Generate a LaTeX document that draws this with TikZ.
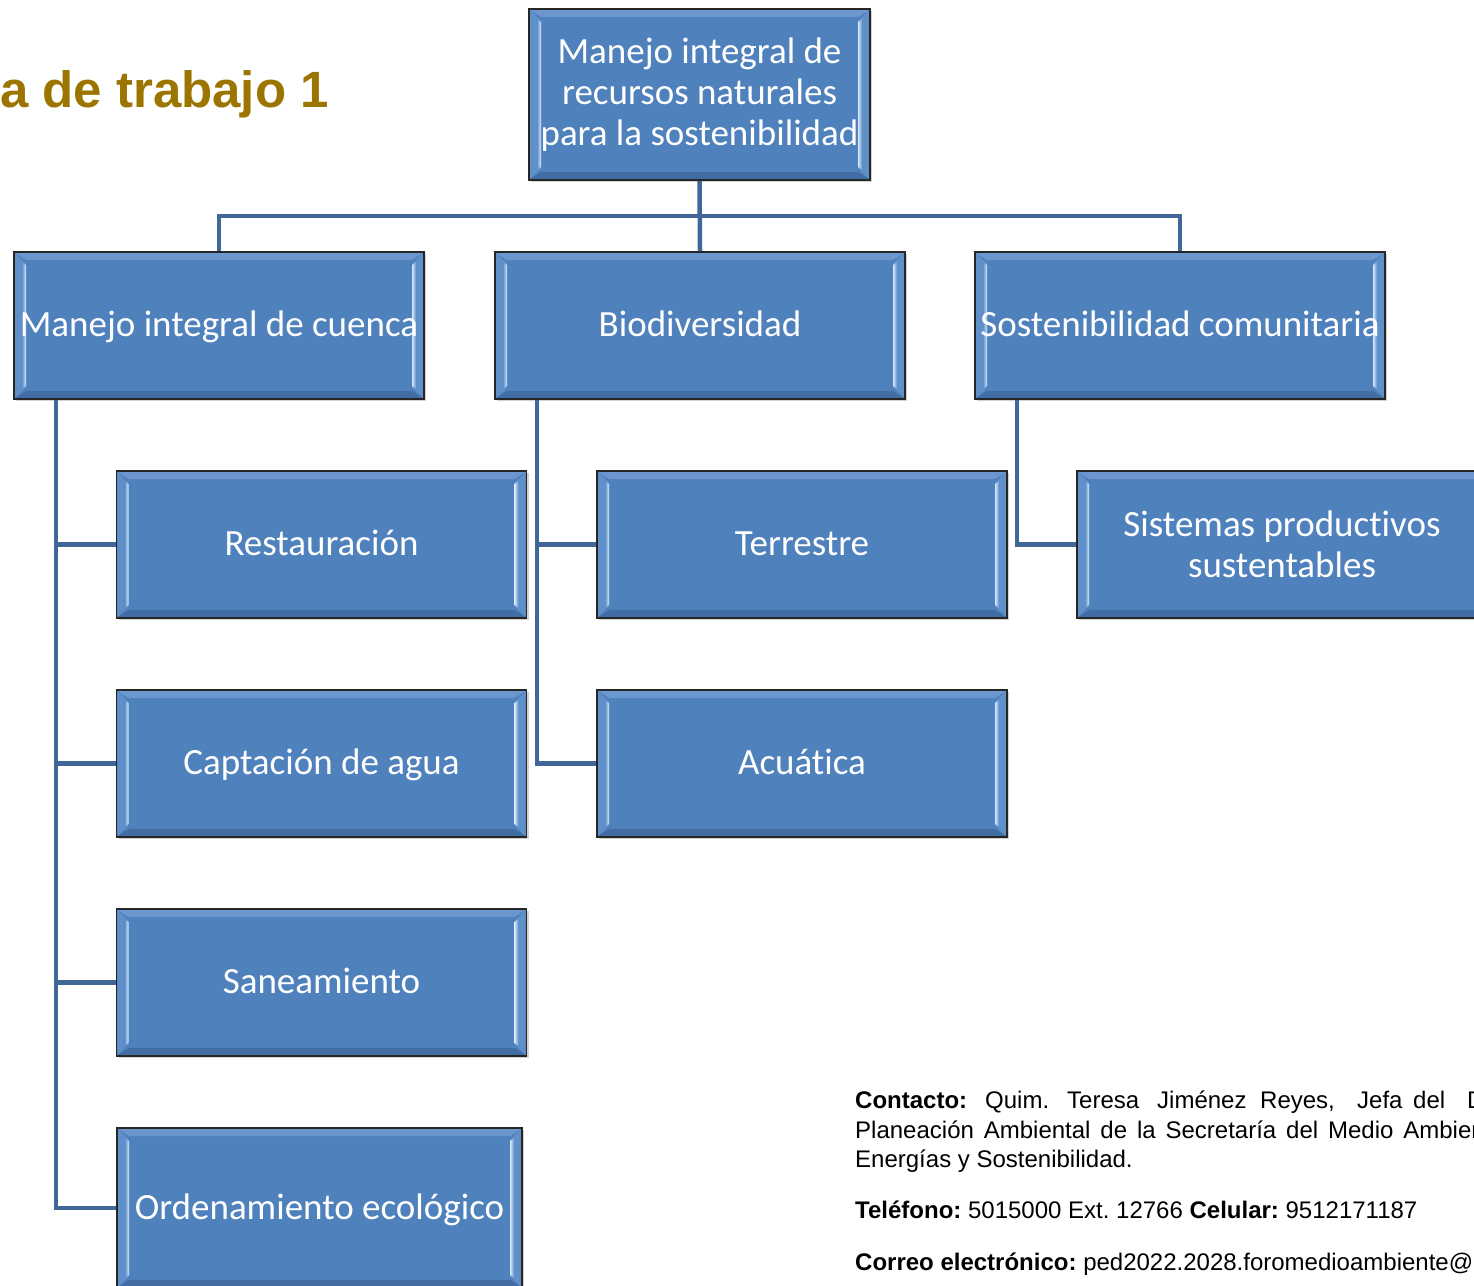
\documentclass[tikz,border=0pt]{standalone}
\usepackage{fontspec}
\setmainfont{Liberation Sans}
\newfontfamily\boxfont[Ligatures=NoCommon]{Carlito}
\usetikzlibrary{shadows,calc}
\frenchspacing
\definecolor{boxfill}{RGB}{79,129,189}
\definecolor{bevin}{RGB}{215,232,252}
\definecolor{bevout}{RGB}{96,144,202}
\definecolor{bevtop}{RGB}{108,150,206}
\definecolor{bevbot}{RGB}{66,108,164}
\definecolor{linkc}{RGB}{65,102,152}
\definecolor{titlec}{RGB}{155,117,0}
\tikzset{
  orgbox/.style={draw=black!85, line width=1.6pt, fill=boxfill, inner sep=0pt,
    text=white, font=\boxfont\fontsize{37}{41}\selectfont, align=center,
    drop shadow={shadow xshift=2pt,shadow yshift=-2pt,opacity=0.35},
    path picture={
      \fill[bevtop] ([shift={(1pt,-1pt)}]path picture bounding box.north west)
        -- ([shift={(12pt,-8pt)}]path picture bounding box.north west)
        -- ([shift={(-12pt,-8pt)}]path picture bounding box.north east)
        -- ([shift={(-1pt,-1pt)}]path picture bounding box.north east) -- cycle;
      \fill[bevbot] ([shift={(1pt,1pt)}]path picture bounding box.south west)
        -- ([shift={(12pt,8pt)}]path picture bounding box.south west)
        -- ([shift={(-12pt,8pt)}]path picture bounding box.south east)
        -- ([shift={(-1pt,1pt)}]path picture bounding box.south east) -- cycle;
      \fill[bevout]
        ([shift={(1pt,-1pt)}]path picture bounding box.north west)
        -- ([shift={(12pt,-12pt)}]path picture bounding box.north west)
        -- ([shift={(12pt,12pt)}]path picture bounding box.south west)
        -- ([shift={(1pt,1pt)}]path picture bounding box.south west) -- cycle;
      \shade[left color=bevout, right color=bevin]
        ([shift={(8pt,-10pt)}]path picture bounding box.north west)
        -- ([shift={(12pt,-13pt)}]path picture bounding box.north west)
        -- ([shift={(12pt,13pt)}]path picture bounding box.south west)
        -- ([shift={(8pt,10pt)}]path picture bounding box.south west) -- cycle;
      \fill[bevout]
        ([shift={(-1pt,-1pt)}]path picture bounding box.north east)
        -- ([shift={(-12pt,-12pt)}]path picture bounding box.north east)
        -- ([shift={(-12pt,12pt)}]path picture bounding box.south east)
        -- ([shift={(-1pt,1pt)}]path picture bounding box.south east) -- cycle;
      \shade[right color=bevout, left color=bevin]
        ([shift={(-8pt,-10pt)}]path picture bounding box.north east)
        -- ([shift={(-12pt,-13pt)}]path picture bounding box.north east)
        -- ([shift={(-12pt,13pt)}]path picture bounding box.south east)
        -- ([shift={(-8pt,10pt)}]path picture bounding box.south east) -- cycle;
    }},
  lvbox/.style={orgbox, minimum width=410pt, minimum height=147pt},
  oneline/.style={text height=30pt, text depth=8pt},
  link/.style={draw=linkc, line width=4.5pt},
  contact/.style={anchor=base west, inner sep=0pt, font=\fontsize{24}{30}\selectfont, text=black},
}
\begin{document}
\begin{tikzpicture}[x=1pt,y=-1pt]
\clip (0,0) rectangle (1474,1285);
\fill[white] (0,0) rectangle (1474,1285);

% title
\node[anchor=base east, inner sep=0pt, text=titlec, font=\bfseries\fontsize{51}{60}\selectfont] (title) at (329,107) {a de trabajo 1};

% boxes
\node[orgbox, minimum width=341pt, minimum height=171pt] (root) at (699.5,94.5) {\rule{0pt}{4pt}Manejo integral de\\recursos naturales\\para la sostenibilidad};
\node[lvbox, oneline] (b1) at (219,325.5) {Manejo integral de cuenca};
\node[lvbox, oneline] (b2) at (700,325.5) {Biodiversidad};
\node[lvbox, oneline] (b3) at (1180,325.5) {Sostenibilidad comunitaria};

\node[lvbox, oneline] (c1) at (321.5,544.5) {Restauración};
\node[lvbox, oneline] (c2) at (321.5,763.5) {Captación de agua};
\node[lvbox, oneline] (c3) at (321.5,982.5) {Saneamiento};
\node[orgbox, oneline, minimum width=405pt, minimum height=160pt] (c4) at (319.5,1208) {Ordenamiento ecológico};

\node[lvbox, oneline] (d1) at (802,544.5) {Terrestre};
\node[lvbox, oneline] (d2) at (802,763.5) {Acuática};

\node[lvbox] (e1) at (1282,544.5) {Sistemas productivos\\sustentables};

% connectors
\coordinate (bar) at (699.5,216);
\draw[link] (root.south) -- (b2.north);
\draw[link] (b1.north) |- (bar) -| (b3.north);

\coordinate (l1) at ($(b1.south west)+(43,0)$);
\draw[link] (l1) |- (c1.west);
\draw[link] (l1) |- (c2.west);
\draw[link] (l1) |- (c3.west);
\draw[link] (l1) |- (c4.west);

\coordinate (l2) at ($(b2.south west)+(43,0)$);
\draw[link] (l2) |- (d1.west);
\draw[link] (l2) |- (d2.west);

\coordinate (l3) at ($(b3.south west)+(43,0)$);
\draw[link] (l3) |- (e1.west);

% contact text
\node[contact] (w1) at (855,1108) {\textbf{Contacto:}};
\node[contact] (w2) at (985,1108) {Quim.};
\node[contact] (w3) at (1067,1108) {Teresa};
\node[contact] (w4) at (1157,1108) {Jiménez};
\node[contact] (w5) at (1260,1108) {Reyes,};
\node[contact] (w6) at (1357,1108) {Jefa};
\node[contact] (w7) at (1413,1108) {del};
\node[contact] (w8) at (1467,1108) {D};
\node[contact] (p2) at (855,1138) {\spaceskip=9.9pt Planeación Ambiental de la Secretaría del Medio Ambien};
\node[contact] (p3) at (855,1167) {Energías y Sostenibilidad.};
\node[contact] (p4) at (855,1218) {\textbf{Teléfono:} 5015000 Ext. 12766 \textbf{Celular:} 9512171187};
\node[contact] (p5) at (855,1270) {\textbf{Correo electrónico:} ped2022.2028.foromedioambiente@};
\end{tikzpicture}
\end{document}
